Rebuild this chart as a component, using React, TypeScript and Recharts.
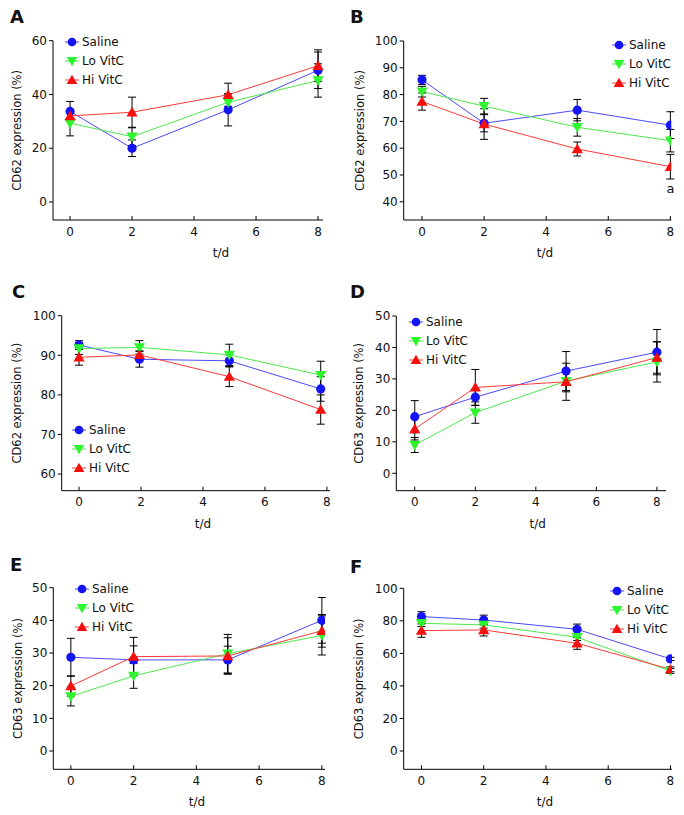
import { ErrorBar, Legend, Line, LineChart, ReferenceDot, XAxis, YAxis } from 'recharts'

// x positions (days) as drawn in each panel
const DAYS = [0, 2, 5, 8]
const DAYS_A = [0, 2, 5.1, 8]
const DAYS_C = [0, 1.95, 4.85, 7.8]
const X_TICKS = [0, 2, 4, 6, 8]

const SERIES_NAMES = ['Saline', 'Lo VitC', 'Hi VitC']

// A - CD62
const A_SALINE = [33.7, 20.0, 34.3, 49.0]
const A_SALINE_SD = [3.7, 3.1, 6.0, 6.8]
const A_LO = [29.3, 24.3, 37.1, 45.2]
const A_LO_SD = [4.7, 3.3, 3.0, 6.2]
const A_HI = [32.0, 33.4, 39.9, 50.7]
const A_HI_SD = [2.0, 5.6, 4.3, 5.9]

// B - CD62
const B_SALINE = [85.5, 69.3, 74.2, 68.6]
const B_SALINE_SD = [1.7, 3.2, 4.0, 5.0]
const B_LO = [81.1, 75.7, 67.8, 62.8]
const B_LO_SD = [2.0, 2.9, 3.3, 4.2]
const B_HI = [77.4, 69.0, 59.7, 53.1]
const B_HI_SD = [3.2, 5.7, 2.6, 4.6]

// C - CD62
const C_SALINE = [92.6, 89.0, 88.6, 81.5]
const C_SALINE_SD = [1.1, 2.0, 1.5, 3.1]
const C_LO = [91.7, 92.0, 90.1, 85.0]
const C_LO_SD = [1.5, 1.7, 2.7, 3.5]
const C_HI = [89.5, 90.1, 84.6, 76.3]
const C_HI_SD = [2.0, 1.0, 2.5, 3.7]

// D - CD63
const D_SALINE = [18.0, 24.2, 32.5, 38.5]
const D_SALINE_SD = [5.1, 2.6, 6.2, 7.2]
const D_LO = [9.0, 19.3, 29.3, 35.4]
const D_LO_SD = [2.4, 3.4, 3.4, 6.4]
const D_HI = [14.1, 27.3, 29.1, 36.8]
const D_HI_SD = [3.5, 5.7, 5.9, 5.0]

// E - CD63
const E_SALINE = [28.7, 27.9, 27.9, 40.0]
const E_SALINE_SD = [5.8, 4.3, 4.2, 7.0]
const E_LO = [16.7, 23.0, 29.8, 35.4]
const E_LO_SD = [2.9, 3.8, 5.9, 6.0]
const E_HI = [19.9, 28.9, 29.1, 36.8]
const E_HI_SD = [3.1, 5.9, 5.6, 5.0]

// F - CD63
const F_SALINE = [82.6, 80.5, 74.8, 56.6]
const F_SALINE_SD = [3.0, 3.0, 3.2, 1.0]
const F_LO = [78.5, 77.5, 69.9, 49.2]
const F_LO_SD = [2.0, 2.0, 2.0, 1.5]
const F_HI = [74.0, 74.4, 66.2, 50.2]
const F_HI_SD = [4.1, 3.7, 3.7, 1.5]

const Y_TICKS_A = [0, 20, 40, 60]
const Y_TICKS_B = [40, 50, 60, 70, 80, 90, 100]
const Y_TICKS_C = [60, 70, 80, 90, 100]
const Y_TICKS_DE = [0, 10, 20, 30, 40, 50]
const Y_TICKS_F = [0, 20, 40, 60, 80, 100]

const FONT = '"DejaVu Sans", Verdana, sans-serif'
const BLUE = '#1414f5'
const GREEN = '#2ef52e'
const RED = '#f50f0f'
const BLUE_LINE = '#4a4aff'
const GREEN_LINE = '#4ee84e'
const RED_LINE = '#ff3a3a'

type Marker = 'circle' | 'down' | 'up'

function markerShape(kind: Marker, cx: number, cy: number, color: string, s = 1, key?: string | number) {
  if (kind === 'circle') return <circle key={key} cx={cx} cy={cy} r={4.6 * s} fill={color} />
  if (kind === 'down') {
    const pts = `${cx - 5.6 * s},${cy - 4.2 * s} ${cx + 5.6 * s},${cy - 4.2 * s} ${cx},${cy + 5.4 * s}`
    return <polygon key={key} points={pts} fill={color} />
  }
  const pts = `${cx - 5.6 * s},${cy + 4.2 * s} ${cx + 5.6 * s},${cy + 4.2 * s} ${cx},${cy - 5.4 * s}`
  return <polygon key={key} points={pts} fill={color} />
}

const dotOf = (kind: Marker, color: string) => (p: any) =>
  markerShape(kind, p.cx, p.cy, color, 1, `${kind}-${p.index}`)

const LEGEND_ITEMS: { kind: Marker; color: string; line: string }[] = [
  { kind: 'circle', color: BLUE, line: BLUE_LINE },
  { kind: 'down', color: GREEN, line: GREEN_LINE },
  { kind: 'up', color: RED, line: RED_LINE },
]

function LegendBox() {
  return (
    <div style={{ fontFamily: FONT, fontSize: 12, color: '#111' }}>
      {SERIES_NAMES.map((name, i) => (
        <div key={name} style={{ display: 'flex', alignItems: 'center', height: 19 }}>
          <svg width={14} height={14} style={{ marginRight: 3 }}>
            <line x1={0} x2={14} y1={7} y2={7} stroke={LEGEND_ITEMS[i].line} strokeWidth={1} />
            {markerShape(LEGEND_ITEMS[i].kind, 7, 7, LEGEND_ITEMS[i].color, 0.95)}
          </svg>
          <span>{name}</span>
        </div>
      ))}
    </div>
  )
}

interface PanelCfg {
  letter: string
  px: number
  py: number
  h: number
  plot: { l: number; t: number; r: number; b: number }
  xDomain: [number, number]
  yDomain: [number, number]
  yTicks: number[]
  yTitle: string
  days: number[]
  saline: number[]
  salineSd: number[]
  lo: number[]
  loSd: number[]
  hi: number[]
  hiSd: number[]
  legend: { left: number; top: number }
  xTitleX: number
  letterPos: { left: number; top: number }
  note?: boolean
}

const W = 342

const PANELS: PanelCfg[] = [
  {
    letter: 'A', px: 0, py: 0, h: 270,
    plot: { l: 53, t: 40.7, r: 323, b: 220 },
    xDomain: [-0.55, 8.16], yDomain: [-6.7, 60], yTicks: Y_TICKS_A, yTitle: 'CD62 expression (%)',
    days: DAYS_A, saline: A_SALINE, salineSd: A_SALINE_SD, lo: A_LO, loSd: A_LO_SD, hi: A_HI, hiSd: A_HI_SD,
    legend: { left: 65, top: 32.5 }, xTitleX: 221, letterPos: { left: 10, top: 8 },
  },
  {
    letter: 'B', px: 342, py: 0, h: 270,
    plot: { l: 61.7, t: 41, r: 329.3, b: 220 },
    xDomain: [-0.59, 8.03], yDomain: [33.2, 100], yTicks: Y_TICKS_B, yTitle: 'CD62 expression (%)',
    days: DAYS, saline: B_SALINE, salineSd: B_SALINE_SD, lo: B_LO, loSd: B_LO_SD, hi: B_HI, hiSd: B_HI_SD,
    legend: { left: 270, top: 35.5 }, xTitleX: 203, letterPos: { left: 8, top: 8 }, note: true,
  },
  {
    letter: 'C', px: 0, py: 270, h: 270,
    plot: { l: 61.7, t: 45.7, r: 330, b: 220.7 },
    xDomain: [-0.56, 8.1], yDomain: [55.8, 100], yTicks: Y_TICKS_C, yTitle: 'CD62 expression (%)',
    days: DAYS_C, saline: C_SALINE, salineSd: C_SALINE_SD, lo: C_LO, loSd: C_LO_SD, hi: C_HI, hiSd: C_HI_SD,
    legend: { left: 72, top: 150.5 }, xTitleX: 203, letterPos: { left: 12, top: 13 },
  },
  {
    letter: 'D', px: 342, py: 270, h: 270,
    plot: { l: 54.3, t: 46, r: 324, b: 220.7 },
    xDomain: [-0.61, 8.3], yDomain: [-5.53, 50], yTicks: Y_TICKS_DE, yTitle: 'CD63 expression (%)',
    days: DAYS, saline: D_SALINE, salineSd: D_SALINE_SD, lo: D_LO, loSd: D_LO_SD, hi: D_HI, hiSd: D_HI_SD,
    legend: { left: 67, top: 42 }, xTitleX: 195.7, letterPos: { left: 8, top: 13 },
  },
  {
    letter: 'E', px: 0, py: 540, h: 275,
    plot: { l: 53.3, t: 47.7, r: 325, b: 229.3 },
    xDomain: [-0.56, 8.1], yDomain: [-5.6, 50], yTicks: Y_TICKS_DE, yTitle: 'CD63 expression (%)',
    days: DAYS, saline: E_SALINE, salineSd: E_SALINE_SD, lo: E_LO, loSd: E_LO_SD, hi: E_HI, hiSd: E_HI_SD,
    legend: { left: 75, top: 39.5 }, xTitleX: 197, letterPos: { left: 10, top: 16 },
  },
  {
    letter: 'F', px: 342, py: 540, h: 275,
    plot: { l: 61.7, t: 48.3, r: 330, b: 229.3 },
    xDomain: [-0.57, 8.05], yDomain: [-11.25, 100], yTicks: Y_TICKS_F, yTitle: 'CD63 expression (%)',
    days: DAYS, saline: F_SALINE, salineSd: F_SALINE_SD, lo: F_LO, loSd: F_LO_SD, hi: F_HI, hiSd: F_HI_SD,
    legend: { left: 268, top: 41.5 }, xTitleX: 203, letterPos: { left: 8, top: 18 },
  },
]

const tickStyle = { fill: '#111', fontSize: 12, fontFamily: FONT }

function Panel({ cfg }: { cfg: PanelCfg }) {
  const { plot } = cfg
  const rows = cfg.days.map((d, i) => ({
    day: d,
    saline: cfg.saline[i],
    salineSd: cfg.salineSd[i],
    lo: cfg.lo[i],
    loSd: cfg.loSd[i],
    hi: cfg.hi[i],
    hiSd: cfg.hiSd[i],
  }))
  const yMid = (plot.t + plot.b) / 2

  return (
    <div style={{ position: 'absolute', left: cfg.px, top: cfg.py, width: W, height: cfg.h }}>
      <LineChart
        width={W}
        height={cfg.h}
        data={rows}
        margin={{ top: plot.t, right: W - plot.r, bottom: 0, left: 0 }}
      >
        <XAxis
          dataKey="day"
          type="number"
          domain={cfg.xDomain}
          allowDataOverflow
          ticks={X_TICKS}
          height={cfg.h - plot.b}
          tick={tickStyle}
          tickSize={-4}
          tickMargin={11}
          axisLine={{ stroke: '#000' }}
          tickLine={{ stroke: '#000' }}
          label={() => (
            <text x={cfg.xTitleX} y={plot.b + 37} textAnchor="middle" fontSize={12} fontFamily={FONT} fill="#111">
              t/d
            </text>
          )}
        />
        <YAxis
          type="number"
          domain={cfg.yDomain}
          allowDataOverflow
          ticks={cfg.yTicks}
          width={plot.l}
          tick={tickStyle}
          tickSize={4}
          tickMargin={2}
          axisLine={{ stroke: '#000' }}
          tickLine={{ stroke: '#000' }}
          label={() => (
            <text
              x={17.5}
              y={yMid}
              transform={`rotate(-90 17.5 ${yMid})`}
              textAnchor="middle"
              dominantBaseline="central"
              fontSize={11.5}
              fontFamily={FONT}
              fill="#111"
            >
              {cfg.yTitle}
            </text>
          )}
        />
        <Legend
          layout="vertical"
          align="center"
          verticalAlign="middle"
          content={() => <LegendBox />}
          wrapperStyle={{ left: cfg.legend.left, top: cfg.legend.top, bottom: 'auto', right: 'auto', width: 'auto' }}
        />
        <Line dataKey="saline" name="Saline" stroke={BLUE_LINE} strokeWidth={1} dot={dotOf('circle', BLUE)} isAnimationActive={false}>
          <ErrorBar dataKey="salineSd" direction="y" width={4} stroke="#000" strokeWidth={1} />
        </Line>
        <Line dataKey="lo" name="Lo VitC" stroke={GREEN_LINE} strokeWidth={1} dot={dotOf('down', GREEN)} isAnimationActive={false}>
          <ErrorBar dataKey="loSd" direction="y" width={4} stroke="#000" strokeWidth={1} />
        </Line>
        <Line dataKey="hi" name="Hi VitC" stroke={RED_LINE} strokeWidth={1} dot={dotOf('up', RED)} isAnimationActive={false}>
          <ErrorBar dataKey="hiSd" direction="y" width={4} stroke="#000" strokeWidth={1} />
        </Line>
        {cfg.note && (
          <ReferenceDot
            x={cfg.days[3]}
            y={cfg.hi[3]}
            r={0}
            fill="none"
            stroke="none"
            label={{ value: 'a', position: 'bottom', offset: 17, fontSize: 13, fontFamily: FONT, fill: '#111' }}
          />
        )}
      </LineChart>
      <div
        style={{
          position: 'absolute',
          left: cfg.letterPos.left,
          top: cfg.letterPos.top,
          fontFamily: FONT,
          fontWeight: 'bold',
          fontSize: 18,
          lineHeight: 1,
          color: '#111',
        }}
      >
        {cfg.letter}
      </div>
    </div>
  )
}

export default function App() {
  return (
    <div style={{ position: 'absolute', left: 0, top: 0, width: 684, height: 815, background: '#fff' }}>
      {PANELS.map((p) => (
        <Panel key={p.letter} cfg={p} />
      ))}
    </div>
  )
}
